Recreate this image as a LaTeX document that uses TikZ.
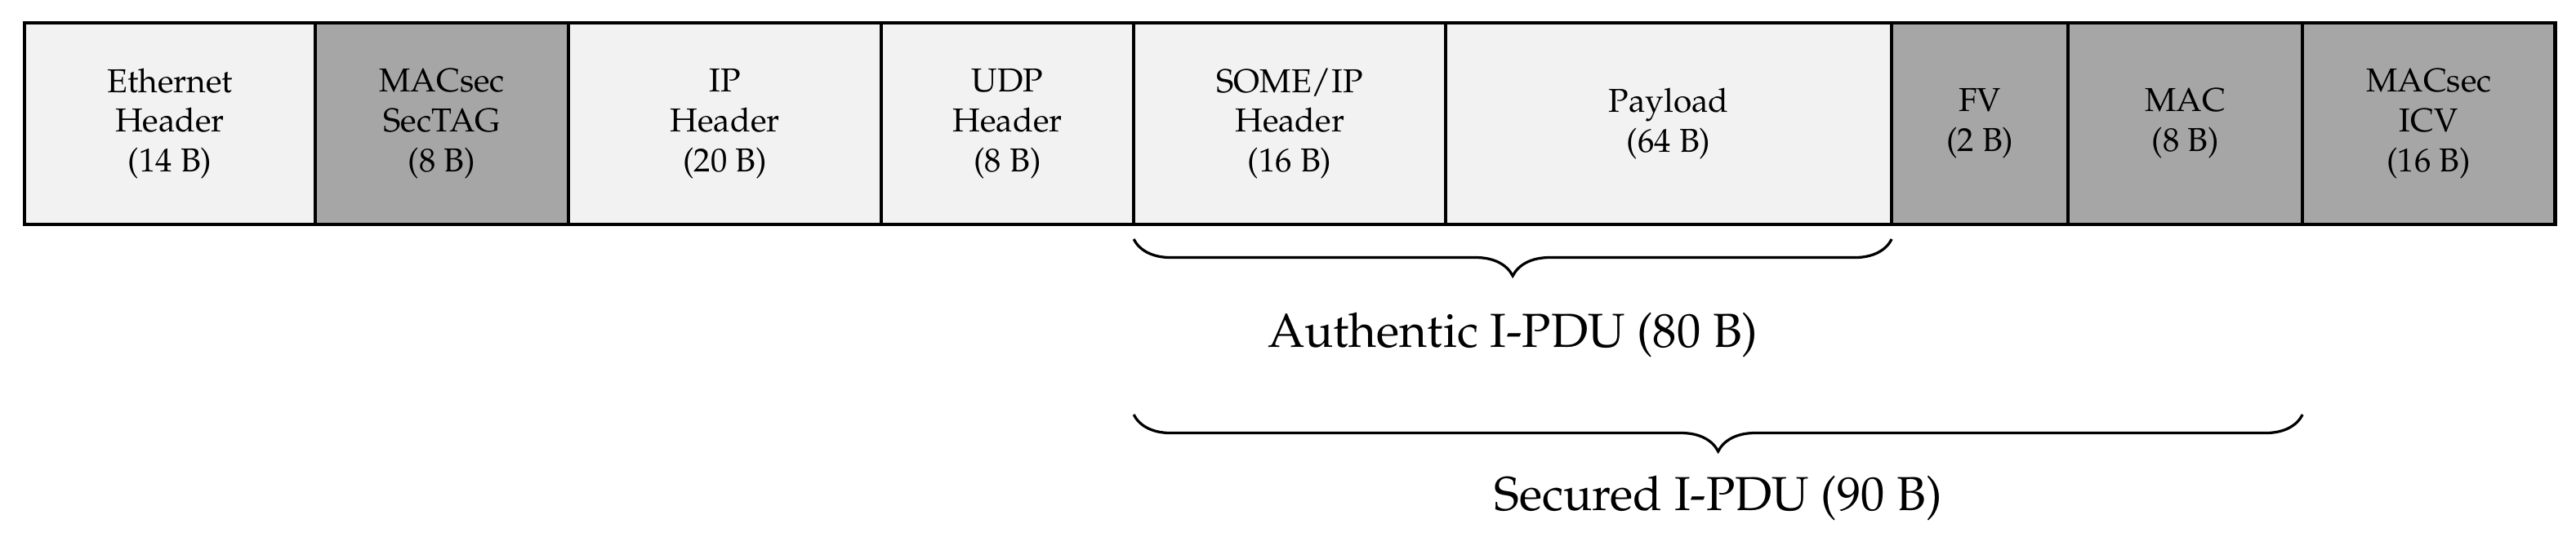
\documentclass[tikz,border=0pt]{standalone}
\usepackage[T1]{fontenc}
\usepackage{mathpazo}
\usepackage{tikz}
\usetikzlibrary{positioning,decorations.pathreplacing}

\definecolor{plaingray}{gray}{0.95}
\definecolor{secgray}{gray}{0.65}

\tikzset{
	field/.style={draw, line width=1.1pt, outer sep=0pt, inner sep=0pt,
		minimum height=2.138cm, align=center, anchor=west},
	plainfield/.style={field, fill=plaingray},
	secfield/.style={field, fill=secgray},
	pdubrace/.style={decorate, line width=0.8pt,
		decoration={brace, mirror, amplitude=0.39cm}}
}

\begin{document}
\begin{tikzpicture}
		\useasboundingbox (0,0) rectangle (27.30,-5.687);

		% frame fields
		\node[plainfield, minimum width=3.082cm, anchor=north west] (eth) at (0.26,-0.242)
		{Ethernet\\Header\\(14 B)};
		\node[secfield, minimum width=2.683cm, right=0pt of eth] (sectag)
		{MACsec\\SecTAG\\(8 B)};
		\node[plainfield, minimum width=3.315cm, right=0pt of sectag] (ip)
		{IP\\Header\\(20 B)};
		\node[plainfield, minimum width=2.675cm, right=0pt of ip] (udp)
		{UDP\\Header\\(8 B)};
		\node[plainfield, minimum width=3.307cm, right=0pt of udp] (someip)
		{SOME/IP\\Header\\(16 B)};
		\node[plainfield, minimum width=4.726cm, right=0pt of someip] (payload)
		{Payload\\(64 B)};
		\node[secfield, minimum width=1.870cm, right=0pt of payload] (fv)
		{FV\\(2 B)};
		\node[secfield, minimum width=2.484cm, right=0pt of fv] (mac)
		{MAC\\(8 B)};
		\node[secfield, minimum width=2.675cm, right=0pt of mac] (icv)
		{MACsec\\ICV\\(16 B)};

		% braces
		\coordinate (authL) at ([yshift=-0.156cm]someip.south west);
		\coordinate (authR) at ([yshift=-0.156cm]payload.south east);
		\coordinate (secL) at ([yshift=-2.017cm]someip.south west);
		\coordinate (secR) at ([yshift=-2.017cm]mac.south east);

		\draw[pdubrace] (authL) -- (authR)
		node [midway, yshift=-1.021cm] (authlbl) {\Large Authentic I-PDU (80 B)};

		\draw[pdubrace] (secL) -- (secR)
		node [midway, yshift=-0.883cm] (seclbl) {\Large Secured I-PDU (90 B)};

\end{tikzpicture}
\end{document}
